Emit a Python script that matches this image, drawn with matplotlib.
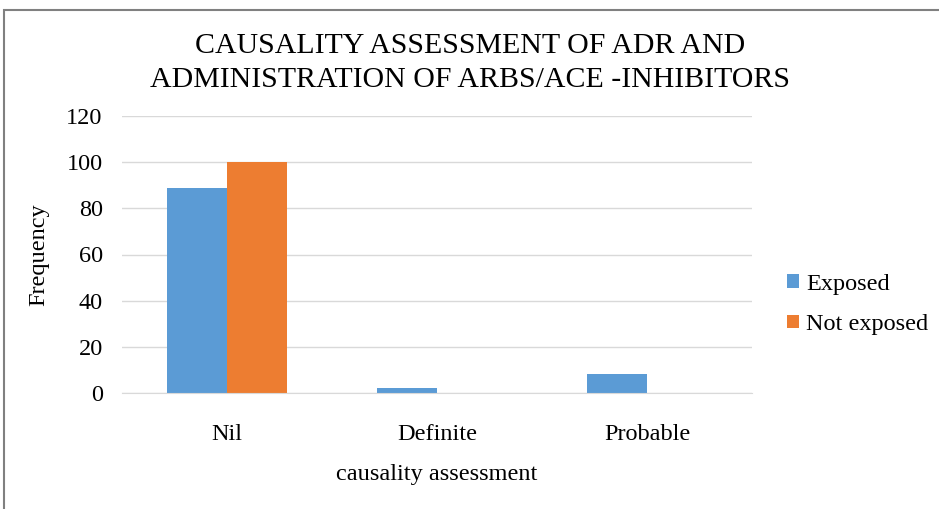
import matplotlib.pyplot as plt
import numpy as np
from matplotlib.patches import Rectangle

# data
categories = ['Nil', 'Definite', 'Probable']
exposed = [89, 2, 8]
not_exposed = [100, 0, 0]
series_names = ['Exposed', 'Not exposed']

plt.rcParams['font.family'] = 'serif'
plt.rcParams['font.serif'] = ['Liberation Serif', 'DejaVu Serif']

fig = plt.figure(figsize=(9.39, 5.09), dpi=100)
ax = fig.add_axes([0.130, 0.228, 0.671, 0.544])

x = np.arange(len(categories))
w = 0.286
ax.bar(x - w / 2, exposed, w, color='#5b9bd5', label=series_names[0])
ax.bar(x + w / 2, not_exposed, w, color='#ed7d31', label=series_names[1])

ax.set_xlim(-0.5, len(categories) - 0.5)
ax.set_ylim(0, 120)
ax.set_yticks(range(0, 121, 20))
ax.set_xticks(x)
ax.set_xticklabels(categories)
ax.grid(axis='y', color='#d9d9d9', linewidth=1)
ax.set_axisbelow(True)
for s in ['top', 'right', 'left']:
    ax.spines[s].set_visible(False)
ax.spines['bottom'].set_color('#d9d9d9')
ax.tick_params(length=0, labelsize=17.5, pad=14)
ax.tick_params(axis='x', pad=22)

ax.set_xlabel('causality assessment', fontsize=17.5, labelpad=14)
ax.set_ylabel('Frequency', fontsize=17.5, labelpad=12)

# title as two lines, serif
ax.set_title('CAUSALITY ASSESSMENT OF ADR AND\nADMINISTRATION OF ARBS/ACE -INHIBITORS',
             fontsize=21.5, linespacing=1.4, fontfamily='serif', pad=21, x=0.553)

ax.legend(loc='center left', bbox_to_anchor=(1.02, 0.32), frameon=False, fontsize=17.5,
          handlelength=0.5, handleheight=0.5, handletextpad=0.3, labelspacing=0.8)

# outer chart border
fig.patches.append(Rectangle((4 / 939, -0.05), 1.2, (509 - 10) / 509 + 0.05, transform=fig.transFigure,
                             fill=False, edgecolor='#808080', linewidth=1.5))

fig.savefig('out.png', dpi=100)
